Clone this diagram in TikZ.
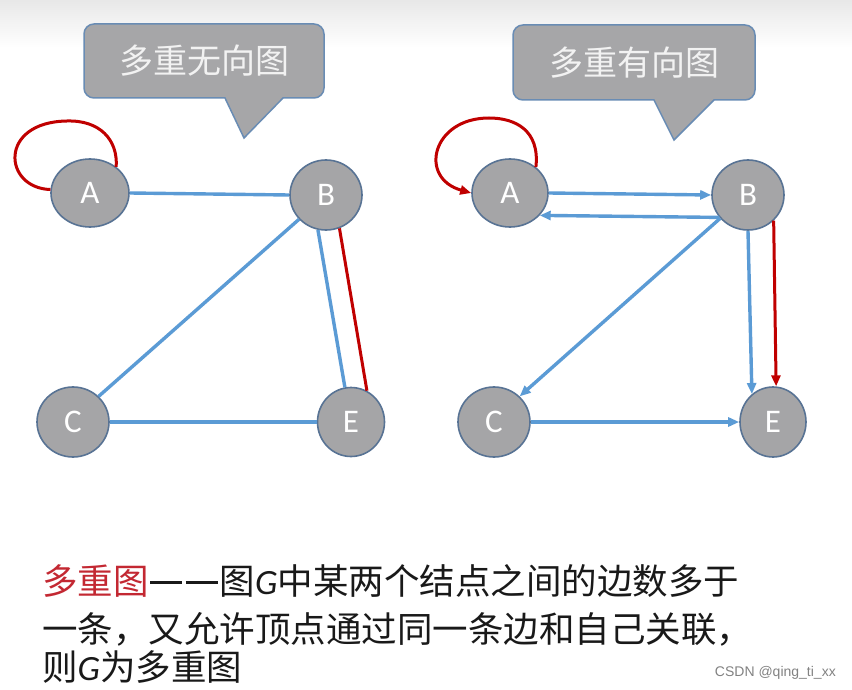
\documentclass[tikz,border=0pt]{standalone}
\usepackage{fontspec}
\setmainfont{Carlito}
\newfontfamily\cjk{Noto Sans CJK SC}
\newfontfamily\wmfont{Liberation Sans}
\usetikzlibrary{arrows.meta,shapes.geometric}
\definecolor{calloutfill}{RGB}{166,166,168}
\definecolor{calloutborder}{RGB}{105,140,180}
\definecolor{nodefill}{RGB}{165,165,167}
\definecolor{nodeborder}{RGB}{88,115,148}
\definecolor{edgeblue}{RGB}{91,155,213}
\definecolor{edgered}{RGB}{192,0,0}
\definecolor{titlered}{RGB}{195,40,50}
\definecolor{bodytext}{RGB}{25,25,25}
\newcommand{\cjkdash}{\makebox[35.5pt]{\rule[10.5pt]{32pt}{2.6pt}}}
\tikzset{
  vertex/.style={ellipse, draw=nodeborder, line width=1.6pt, fill=nodefill,
    text=white, font=\fontsize{33}{33}\selectfont, inner sep=0pt},
  calloutbox/.style={draw=calloutborder, line width=1.5pt, fill=calloutfill},
  calloutlabel/.style={text={rgb,255:red,242;green,242;blue,242}, font=\cjk\fontsize{34}{34}\selectfont, inner sep=0pt},
  blueedge/.style={draw=edgeblue, line width=3.4pt},
  rededge/.style={draw=edgered, line width=3pt},
  tipb/.style={-{Triangle[length=11pt,width=9pt]}},
  bodyline/.style={anchor=base west, inner sep=0pt, text=bodytext, font=\cjk\fontsize{35.5}{35.5}\selectfont},
}
\begin{document}
\begin{tikzpicture}[x=1pt,y=-1pt]
\useasboundingbox (0,0) rectangle (852,690);
\fill[white] (0,0) rectangle (852,690);
\shade[top color={rgb,255:red,232;green,232;blue,232}, bottom color=white] (0,0) rectangle (852,48);

% callout left
\draw[calloutbox] (94,24) -- (314,24) arc[start angle=-90,end angle=0,radius=10]
  -- (324,88) arc[start angle=0,end angle=90,radius=10]
  -- (283,98) -- (244,138) -- (225,98) -- (94,98) arc[start angle=90,end angle=180,radius=10]
  -- (84,34) arc[start angle=180,end angle=270,radius=10] -- cycle;
\node[calloutlabel] (lab1) at (204,61) {多重无向图};

% callout right
\draw[calloutbox] (523,25) -- (745,25) arc[start angle=-90,end angle=0,radius=10]
  -- (755,90) arc[start angle=0,end angle=90,radius=10]
  -- (714,100) -- (674,140) -- (654,100) -- (523,100) arc[start angle=90,end angle=180,radius=10]
  -- (513,35) arc[start angle=180,end angle=270,radius=10] -- cycle;
\node[calloutlabel] (lab2) at (634,63) {多重有向图};

% left graph nodes
\node[vertex, minimum width=78pt, minimum height=68pt] (A1) at (90,193) {A};
\node[vertex, minimum width=72pt, minimum height=70pt] (B1) at (326,195) {B};
\node[vertex, minimum width=72pt, minimum height=70pt] (C1) at (73,422) {C};
\node[vertex, minimum width=67pt, minimum height=69pt] (E1) at (351,422) {E};

% left graph edges
\coordinate (LtopL) at (67,121);
\draw[rededge] (A1.175) .. controls (3,188) and (-2,122) .. (LtopL) .. controls (100,120) and (118,140) .. (A1.45);
\draw[blueedge] (A1.east) -- (B1.west);
\draw[blueedge] (B1.222) -- (C1.45);
\draw[blueedge] (B1.257) -- (E1.100);
\draw[rededge] (B1.-68) -- (E1.63);
\draw[blueedge] (C1.east) -- (E1.west);

% right graph nodes
\node[vertex, minimum width=76pt, minimum height=68pt] (A2) at (510,193) {A};
\node[vertex, minimum width=72pt, minimum height=70pt] (B2) at (748,195) {B};
\node[vertex, minimum width=72pt, minimum height=70pt] (C2) at (494,422) {C};
\node[vertex, minimum width=66pt, minimum height=70pt] (E2) at (773,422) {E};

% right graph edges
\coordinate (LtopR) at (489,118);
\draw[rededge, tipb] (A2.45) .. controls (540,130) and (515,118) .. (LtopR) .. controls (432,118) and (418,178) .. (A2.west);
\draw[blueedge, tipb] (A2.east) -- (B2.west);
\draw[blueedge, tipb] (B2.218) -- (A2.-37);
\draw[blueedge, tipb] (B2.220) -- (C2.45);
\draw[blueedge, tipb] (B2.south) -- (E2.127);
\draw[rededge, tipb] (B2.-45) -- (E2.85);
\draw[blueedge, tipb] (C2.east) -- (E2.west);

% bottom text
\node[bodyline] (t1) at (42,594) {\textcolor{titlered}{多重图}\cjkdash\cjkdash 图{\rmfamily\itshape G}中某两个结点之间的边数多于};
\node[bodyline] (t2) at (42,642) {一条，又允许顶点通过同一条边和自己关联，};
\node[bodyline] (t3) at (42,680) {则{\rmfamily\itshape G}为多重图};

\node[anchor=east, inner sep=0pt, text={rgb,255:red,130;green,130;blue,130}, font=\wmfont\fontsize{14}{14}\selectfont] (wm) at (836,673) {CSDN @qing\_ti\_xx};
\end{tikzpicture}
\end{document}
